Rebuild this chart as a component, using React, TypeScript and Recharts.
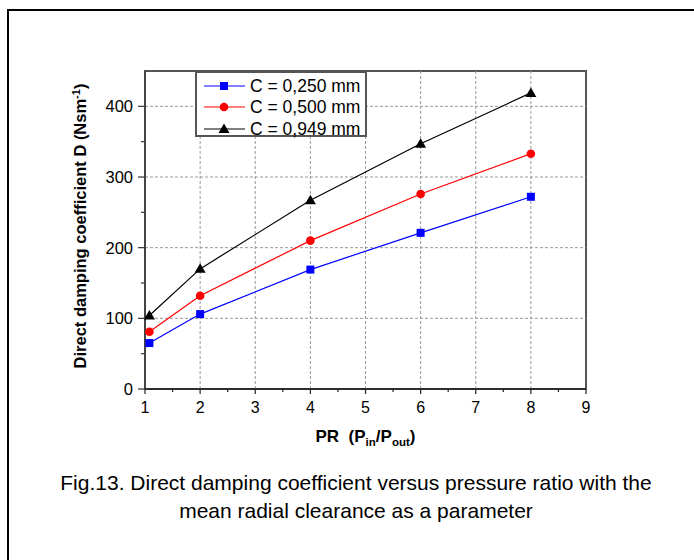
import React from 'react';
import { LineChart, Line, XAxis, YAxis, ReferenceLine, ReferenceArea, Legend } from 'recharts';

const prValues = [1.08, 2, 4, 6, 8];
const dampingC0250 = [65, 106, 169, 221, 272];
const dampingC0500 = [81, 132, 210, 276, 333];
const dampingC0949 = [104, 170, 267, 347, 419];
const seriesNames = ['C = 0,250 mm', 'C = 0,500 mm', 'C = 0,949 mm'];
const seriesColors = ['#0000ff', '#ff0000', '#000000'];
const seriesKeys = ['c250', 'c500', 'c949'];
const xTicks = [1, 1.5, 2, 2.5, 3, 3.5, 4, 4.5, 5, 5.5, 6, 6.5, 7, 7.5, 8, 8.5, 9];
const yTicks = [0, 50, 100, 150, 200, 250, 300, 350, 400];
const xGrid = [2, 3, 4, 5, 6, 7, 8];
const yGrid = [100, 200, 300, 400];
const xDomain = [1, 9];
const yDomain = [0, 450];
const captionLines = [
  'Fig.13. Direct damping coefficient versus pressure ratio with the',
  'mean radial clearance as a parameter',
];

const data = prValues.map((pr, i) => ({
  pr,
  c250: dampingC0250[i],
  c500: dampingC0500[i],
  c949: dampingC0949[i],
}));

const FONT = "'Liberation Sans', Arial, Helvetica, sans-serif";

function Marker({ kind, cx, cy, color }: { kind: string; cx: number; cy: number; color: string }) {
  if (kind === 'c250') {
    return <rect x={cx - 4} y={cy - 4} width={8} height={8} fill={color} />;
  }
  if (kind === 'c500') {
    return <circle cx={cx} cy={cy} r={4.3} fill={color} />;
  }
  return (
    <polygon
      points={`${cx},${cy - 5.5} ${cx + 5.5},${cy + 4} ${cx - 5.5},${cy + 4}`}
      fill={color}
    />
  );
}

const makeDot = (kind: string, color: string) => (props: any) => {
  const { cx, cy, index } = props;
  if (cx == null || cy == null) return <g key={`d-${kind}-${index}`} />;
  return (
    <g key={`d-${kind}-${index}`}>
      <Marker kind={kind} cx={cx} cy={cy} color={color} />
    </g>
  );
};

const XTick = (props: any) => {
  const { x, y, payload } = props;
  const v = payload.value;
  const major = Number.isInteger(v);
  return (
    <g>
      <line x1={x} x2={x} y1={y} y2={y + (major ? 5 : 3)} stroke="#222" strokeWidth={1.2} />
      {major && (
        <text x={x} y={y + 18} textAnchor="middle" dominantBaseline="central" fontFamily={FONT} fontSize={16} fill="#000">
          {v}
        </text>
      )}
    </g>
  );
};

const YTick = (props: any) => {
  const { x, y, payload } = props;
  const v = payload.value;
  const major = v % 100 === 0;
  return (
    <g>
      <line x1={x - (major ? 7 : 4)} x2={x} y1={y} y2={y} stroke="#333" strokeWidth={1.2} />
      {major && (
        <text x={x - 12} y={y} textAnchor="end" dominantBaseline="central" fontFamily={FONT} fontSize={16.5} fill="#000">
          {v}
        </text>
      )}
    </g>
  );
};

const renderLegend = (props: any) => {
  const payload = props.payload || [];
  return (
    <div
      style={{
        width: 172,
        height: 66,
        boxSizing: 'border-box',
        border: '2px solid #555',
        background: '#fff',
        paddingTop: 2,
        fontFamily: FONT,
        fontSize: 17.5,
        color: '#000',
      }}
    >
      {payload.map((entry: any) => (
        <div key={entry.dataKey} style={{ display: 'flex', alignItems: 'center', height: 21.5 }}>
          <svg width={53} height={20} style={{ display: 'block', flex: 'none' }}>
            <line x1={7} x2={48} y1={10} y2={10} stroke={entry.color} strokeWidth={1.2} />
            <Marker kind={entry.dataKey} cx={27} cy={10} color={entry.color} />
          </svg>
          <span style={{ whiteSpace: 'nowrap', lineHeight: '20px' }}>{entry.value}</span>
        </div>
      ))}
    </div>
  );
};

const XLabel = (props: any) => {
  const vb = props.viewBox || { x: 145, y: 389, width: 441 };
  const cx = vb.x + vb.width / 2;
  const y = vb.y + 53;
  return (
    <text x={cx} y={y} textAnchor="middle" fontFamily={FONT} fontSize={17} fontWeight="bold" fill="#000">
      {'PR\u00A0\u00A0(P'}
      <tspan dy={4} fontSize={11.5}>in</tspan>
      <tspan dy={-4}>/P</tspan>
      <tspan dy={4} fontSize={11.5}>out</tspan>
      <tspan dy={-4}>)</tspan>
    </text>
  );
};

const YLabel = (props: any) => {
  const vb = props.viewBox || { x: 0, y: 71, height: 318 };
  const x = 86;
  const cy = vb.y + vb.height / 2 - 4;
  return (
    <text
      x={x}
      y={cy}
      transform={`rotate(-90, ${x}, ${cy})`}
      textAnchor="middle"
      fontFamily={FONT}
      fontSize={16.5}
      fontWeight="bold"
      fill="#000"
    >
      {'Direct damping coefficient D (Nsm'}
      <tspan dy={-6} fontSize={11}>-1</tspan>
      <tspan dy={6}>)</tspan>
    </text>
  );
};

export default function App() {
  return (
    <div
      style={{
        position: 'absolute',
        left: 0,
        top: 0,
        width: 694,
        height: 560,
        overflow: 'hidden',
        background: '#fff',
      }}
    >
      <div
        style={{
          position: 'absolute',
          left: 7,
          top: 9,
          width: 720,
          height: 600,
          borderLeft: '2px solid #000',
          borderTop: '2px solid #000',
        }}
      />
      <div style={{ position: 'absolute', left: 0, top: 0 }}>
        <LineChart width={694} height={560} data={data} margin={{ top: 71, right: 108, left: 0, bottom: 0 }}>
          <XAxis
            dataKey="pr"
            type="number"
            domain={xDomain}
            ticks={xTicks}
            interval={0}
            tickSize={0}
            tickMargin={0}
            tickLine={false}
            tick={<XTick />}
            height={171}
            axisLine={{ stroke: '#222', strokeWidth: 1.5 }}
            label={<XLabel />}
          />
          <YAxis
            type="number"
            domain={yDomain}
            ticks={yTicks}
            interval={0}
            tickSize={0}
            tickMargin={0}
            tickLine={false}
            tick={<YTick />}
            width={145}
            axisLine={{ stroke: '#444', strokeWidth: 2 }}
            label={<YLabel />}
          />
          {xGrid.map((v) => (
            <ReferenceLine key={`gx${v}`} x={v} stroke="#999" strokeDasharray="3 2" strokeWidth={1} />
          ))}
          {yGrid.map((v) => (
            <ReferenceLine key={`gy${v}`} y={v} stroke="#999" strokeDasharray="3 2" strokeWidth={1} />
          ))}
          <ReferenceArea
            x1={xDomain[0]}
            x2={xDomain[1]}
            y1={yDomain[0]}
            y2={yDomain[1]}
            fill="none"
            fillOpacity={0}
            stroke="#555"
            strokeWidth={2}
          />
          {seriesKeys.map((k, i) => (
            <Line
              key={k}
              dataKey={k}
              name={seriesNames[i]}
              stroke={seriesColors[i]}
              strokeWidth={1.2}
              dot={makeDot(k, seriesColors[i])}
              activeDot={false}
              isAnimationActive={false}
            />
          ))}
          <Legend
            layout="vertical"
            align="center"
            verticalAlign="middle"
            content={renderLegend}
            wrapperStyle={{ left: 195, top: 71, width: 172, height: 66 }}
          />
        </LineChart>
      </div>
      {captionLines.map((line, i) => (
        <div
          key={i}
          style={{
            position: 'absolute',
            left: 0,
            width: 712,
            top: 469 + i * 28,
            height: 28,
            lineHeight: '28px',
            textAlign: 'center',
            fontFamily: FONT,
            fontSize: 21,
            color: '#000',
            whiteSpace: 'nowrap',
          }}
        >
          {line}
        </div>
      ))}
    </div>
  );
}
